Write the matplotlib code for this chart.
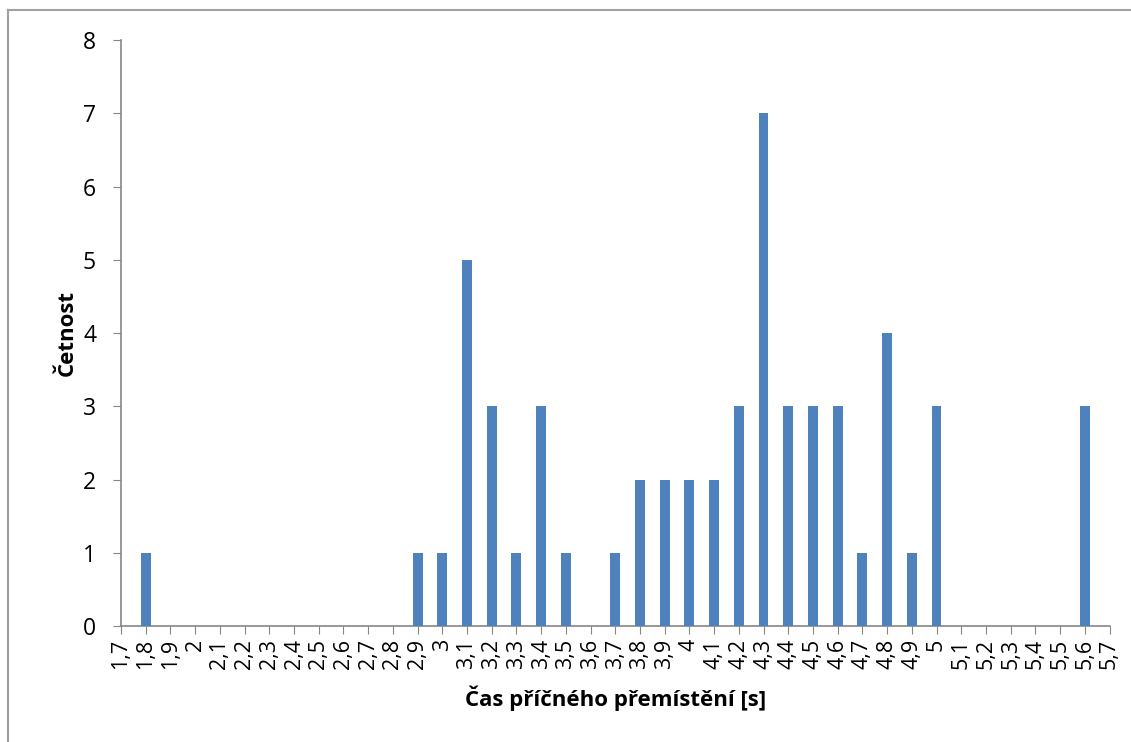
import numpy as np
import matplotlib
matplotlib.use('Agg')
import matplotlib.pyplot as plt
from matplotlib.lines import Line2D

plt.rcParams['font.family'] = ['Open Sans', 'DejaVu Sans']

# kategorie osy x (1,7 ... 5,7) a četnosti
kategorie = [round(1.7 + 0.1 * i, 1) for i in range(41)]
hodnoty_x = [1.8, 2.9, 3.0, 3.1, 3.2, 3.3, 3.4, 3.5, 3.7, 3.8, 3.9, 4.0,
             4.1, 4.2, 4.3, 4.4, 4.5, 4.6, 4.7, 4.8, 4.9, 5.0, 5.6]
cetnosti = [1, 1, 1, 5, 3, 1, 3, 1, 1, 2, 2, 2,
            2, 3, 7, 3, 3, 3, 1, 4, 1, 3, 3]

popisky = [f"{k:g}".replace('.', ',') for k in kategorie]

fig = plt.figure(figsize=(11.31, 7.42), dpi=100)
ax = fig.add_axes([0.107, 0.156, 0.874, 0.790])

pozice = [kategorie.index(round(v, 1)) for v in hodnoty_x]
ax.bar(pozice, cetnosti, width=0.4, color='#4F81BD', zorder=3)

ax.set_xlim(0, len(kategorie) - 1)
ax.set_ylim(0, 8)
ax.set_xticks(range(len(kategorie)))
ax.set_xticklabels(popisky, rotation=90, fontsize=15.5)
ax.set_yticks(range(9))
ax.tick_params(axis='y', labelsize=16.5, length=6, color='#868686', pad=12)
ax.tick_params(axis='x', length=6, color='#868686', pad=3)

for s in ['top', 'right']:
    ax.spines[s].set_visible(False)
for s in ['left', 'bottom']:
    ax.spines[s].set_color('#868686')
    ax.spines[s].set_linewidth(1.2)

ax.set_ylabel('Četnost', fontsize=16, fontweight='bold', labelpad=4)
ax.set_xlabel('Čas příčného přemístění [s]', fontsize=16, fontweight='bold', labelpad=12)

# rámeček grafu (jen levá a horní hrana jsou vidět)
fig.add_artist(Line2D([8 / 1131, 8 / 1131], [0, 1 - 10 / 742], transform=fig.transFigure,
                      color='#A0A0A0', linewidth=1.5))
fig.add_artist(Line2D([8 / 1131, 1], [1 - 10 / 742, 1 - 10 / 742], transform=fig.transFigure,
                      color='#A0A0A0', linewidth=1.5))

fig.savefig('out.png', dpi=100, facecolor='white')
